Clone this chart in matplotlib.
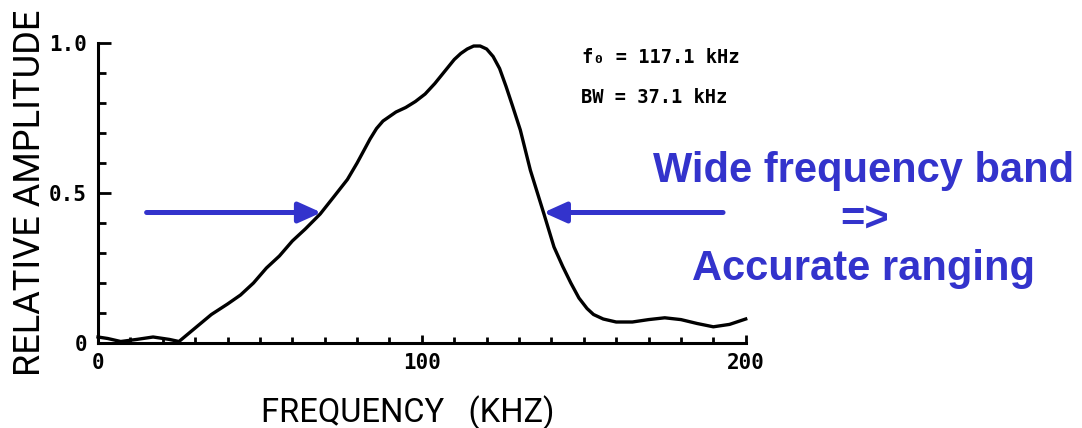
import numpy as np
import matplotlib.pyplot as plt
from matplotlib.patches import ArrowStyle
from matplotlib.ticker import MultipleLocator, FixedLocator, FixedFormatter

# spectrum of the echo pulse
freq_khz = [0, 3, 7, 12, 17, 22, 25, 30, 35, 40, 44, 48, 52, 56, 60, 64, 68.6,
            73, 77, 80, 82, 84, 86, 88, 90, 92, 95, 98, 101, 104, 107, 110, 112,
            114, 116, 118, 120, 122, 124, 126, 128, 130.4, 133.5, 137.7, 140.8,
            143.5, 146, 148.5, 151, 153, 156, 160, 165, 170, 175, 180, 185, 190,
            195, 200]
rel_amp = [0.02, 0.015, 0.005, 0.012, 0.02, 0.012, 0.005, 0.05, 0.095, 0.13,
           0.16, 0.2, 0.25, 0.29, 0.34, 0.38, 0.43, 0.49, 0.545, 0.6, 0.64,
           0.68, 0.715, 0.74, 0.755, 0.77, 0.785, 0.805, 0.83, 0.865, 0.905,
           0.945, 0.965, 0.98, 0.99, 0.99, 0.98, 0.955, 0.915, 0.855, 0.79,
           0.71, 0.576, 0.43, 0.32, 0.255, 0.2, 0.15, 0.115, 0.095, 0.08, 0.07,
           0.07, 0.078, 0.084, 0.078, 0.065, 0.054, 0.062, 0.08]

x_ticks = [0, 100, 200]
x_tick_labels = ['0', '100', '200']
y_ticks = [0, 0.5, 1.0]
y_tick_labels = ['0', '0.5', '1.0']

f0_text = 'f\u2080 = 117.1 kHz'
bw_text = 'BW = 37.1 kHz'
note_lines = ['Wide frequency band', '=>', 'Accurate ranging']

arrow_level = 0.435
arrow_tails = [15, 193]

blue = '#3333CC'
label_font = ['Roboto', 'DejaVu Sans']
tick_font = 'DejaVu Sans Mono'

fig = plt.figure(figsize=(10.82, 4.28), dpi=100)
ax = fig.add_axes([0.0906, 0.1986, 0.5986, 0.7009])

ax.plot(freq_khz, rel_amp, color='black', lw=2.4, clip_on=False,
        solid_joinstyle='round')

ax.set_xlim(0, 200)
ax.set_ylim(0, 1.0)
for side in ['top', 'right']:
    ax.spines[side].set_visible(False)
for side in ['left', 'bottom']:
    ax.spines[side].set_linewidth(2.2)

ax.xaxis.set_major_locator(FixedLocator(x_ticks))
ax.xaxis.set_major_formatter(FixedFormatter(x_tick_labels))
ax.xaxis.set_minor_locator(MultipleLocator(10))
ax.yaxis.set_major_locator(FixedLocator(y_ticks))
ax.yaxis.set_major_formatter(FixedFormatter(y_tick_labels))
ax.yaxis.set_minor_locator(MultipleLocator(0.1))

ax.tick_params(axis='x', which='major', direction='in', length=6, width=2, pad=7)
ax.tick_params(axis='x', which='minor', direction='in', length=4, width=2)
ax.tick_params(axis='y', which='major', direction='in', length=9, width=2, pad=8)
ax.tick_params(axis='y', which='minor', direction='in', length=6, width=2)
for lab in ax.get_xticklabels() + ax.get_yticklabels():
    lab.set_fontfamily(tick_font)
    lab.set_fontweight('bold')
    lab.set_fontsize(15)

ax.set_xlabel('FREQUENCY   (KHZ)', family=label_font, fontsize=23.5)
ax.xaxis.set_label_coords(0.478, -0.175)
ax.set_ylabel('RELATIVE AMPLITUDE', family=label_font, fontsize=26)
ax.yaxis.set_label_coords(-0.078, 0.5)

# peak frequency / bandwidth readout
ax.text(0.748, 0.935, f0_text, transform=ax.transAxes, family=tick_font,
        fontweight='bold', fontsize=13.5, va='baseline')
ax.text(0.745, 0.8, bw_text, transform=ax.transAxes, family=tick_font,
        fontweight='bold', fontsize=13.5, va='baseline')

# arrows pointing at the curve on the rising and falling flanks
amp = np.array(rel_amp)
fr = np.array(freq_khz)
ipk = int(np.argmax(amp))
rise_f = np.interp(arrow_level, amp[6:ipk + 1], fr[6:ipk + 1])
fall_f = np.interp(arrow_level, amp[ipk:][::-1], fr[ipk:][::-1])
head = ArrowStyle('-|>', head_length=0.4, head_width=0.18)
for tail, tip in [(arrow_tails[0], rise_f), (arrow_tails[1], fall_f)]:
    ax.annotate('', xy=(tip, arrow_level), xytext=(tail, arrow_level),
                arrowprops=dict(arrowstyle=head, color=blue, lw=3.6,
                                mutation_scale=34, shrinkA=0, shrinkB=0),
                annotation_clip=False)

fig.text(0.7985, 0.5755, note_lines[0], color=blue, fontsize=30,
         fontweight='bold', family='Liberation Sans', ha='center', va='baseline')
fig.text(0.7995, 0.458, note_lines[1], color=blue, fontsize=30,
         fontweight='bold', family='Liberation Sans', ha='center', va='baseline')
fig.text(0.7985, 0.3458, note_lines[2], color=blue, fontsize=30,
         fontweight='bold', family='Liberation Sans', ha='center', va='baseline')

fig.savefig('out.png', dpi=100)
